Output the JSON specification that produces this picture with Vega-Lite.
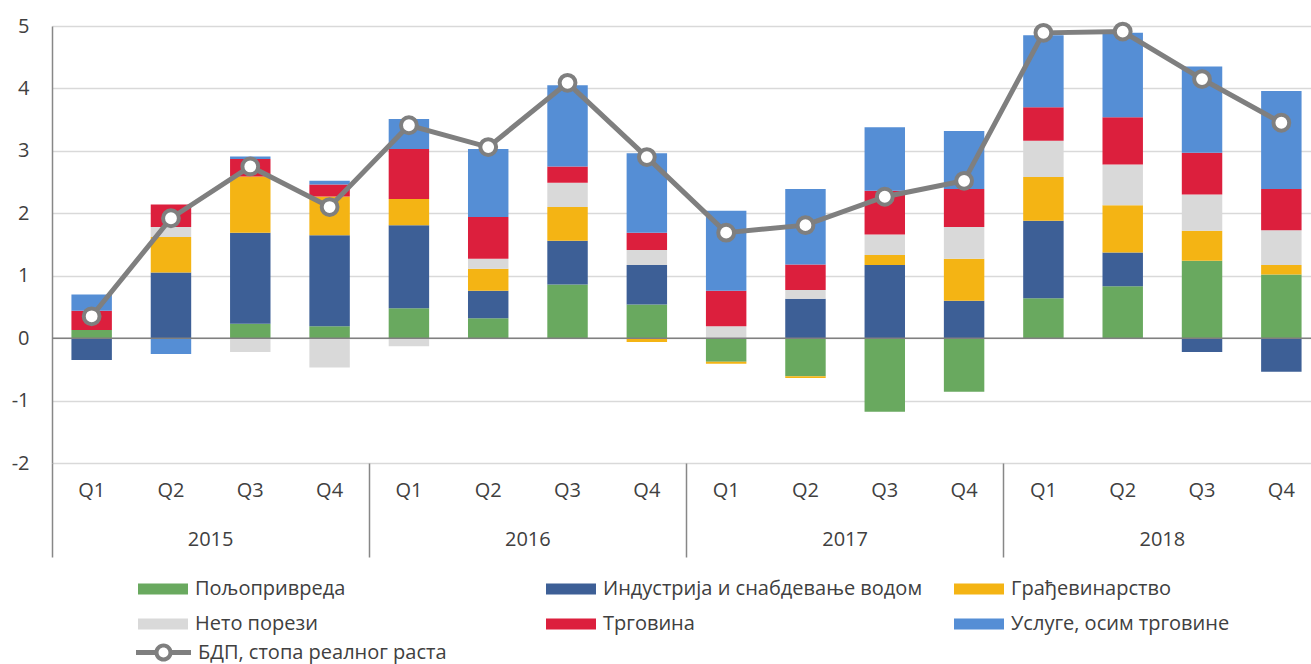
{
  "$schema": "https://vega.github.io/schema/vega-lite/v6.json",
  "width": 1269,
  "height": 437,
  "autosize": {"type": "none"},
  "padding": {"left": 52, "top": 26, "right": -10, "bottom": 201},
  "background": "white",
  "config": {
    "view": {"stroke": null},
    "font": "Open Sans",
    "axis": {"labelFont": "Open Sans", "labelFontSize": 20, "labelColor": "#404040"},
    "legend": {"labelFont": "Open Sans", "labelFontSize": 20, "labelColor": "#404040"}
  },
  "datasets": {
    "bars": [
      {"q": "2015Q1", "c": "Пољопривреда", "k": 1, "v": 0.13},
      {"q": "2015Q1", "c": "Индустрија и снабдевање водом", "k": 2, "v": -0.35},
      {"q": "2015Q1", "c": "Трговина", "k": 5, "v": 0.31},
      {"q": "2015Q1", "c": "Услуге, осим трговине", "k": 6, "v": 0.26},

      {"q": "2015Q2", "c": "Индустрија и снабдевање водом", "k": 2, "v": 1.05},
      {"q": "2015Q2", "c": "Грађевинарство", "k": 3, "v": 0.57},
      {"q": "2015Q2", "c": "Нето порези", "k": 4, "v": 0.16},
      {"q": "2015Q2", "c": "Трговина", "k": 5, "v": 0.36},
      {"q": "2015Q2", "c": "Услуге, осим трговине", "k": 6, "v": -0.255},

      {"q": "2015Q3", "c": "Пољопривреда", "k": 1, "v": 0.23},
      {"q": "2015Q3", "c": "Индустрија и снабдевање водом", "k": 2, "v": 1.46},
      {"q": "2015Q3", "c": "Грађевинарство", "k": 3, "v": 0.9},
      {"q": "2015Q3", "c": "Нето порези", "k": 4, "v": -0.22},
      {"q": "2015Q3", "c": "Трговина", "k": 5, "v": 0.28},
      {"q": "2015Q3", "c": "Услуге, осим трговине", "k": 6, "v": 0.04},

      {"q": "2015Q4", "c": "Пољопривреда", "k": 1, "v": 0.19},
      {"q": "2015Q4", "c": "Индустрија и снабдевање водом", "k": 2, "v": 1.46},
      {"q": "2015Q4", "c": "Грађевинарство", "k": 3, "v": 0.62},
      {"q": "2015Q4", "c": "Нето порези", "k": 4, "v": -0.47},
      {"q": "2015Q4", "c": "Трговина", "k": 5, "v": 0.19},
      {"q": "2015Q4", "c": "Услуге, осим трговине", "k": 6, "v": 0.06},

      {"q": "2016Q1", "c": "Пољопривреда", "k": 1, "v": 0.48},
      {"q": "2016Q1", "c": "Индустрија и снабдевање водом", "k": 2, "v": 1.33},
      {"q": "2016Q1", "c": "Грађевинарство", "k": 3, "v": 0.42},
      {"q": "2016Q1", "c": "Нето порези", "k": 4, "v": -0.13},
      {"q": "2016Q1", "c": "Трговина", "k": 5, "v": 0.8},
      {"q": "2016Q1", "c": "Услуге, осим трговине", "k": 6, "v": 0.48},

      {"q": "2016Q2", "c": "Пољопривреда", "k": 1, "v": 0.32},
      {"q": "2016Q2", "c": "Индустрија и снабдевање водом", "k": 2, "v": 0.44},
      {"q": "2016Q2", "c": "Грађевинарство", "k": 3, "v": 0.35},
      {"q": "2016Q2", "c": "Нето порези", "k": 4, "v": 0.16},
      {"q": "2016Q2", "c": "Трговина", "k": 5, "v": 0.67},
      {"q": "2016Q2", "c": "Услуге, осим трговине", "k": 6, "v": 1.09},

      {"q": "2016Q3", "c": "Пољопривреда", "k": 1, "v": 0.86},
      {"q": "2016Q3", "c": "Индустрија и снабдевање водом", "k": 2, "v": 0.7},
      {"q": "2016Q3", "c": "Грађевинарство", "k": 3, "v": 0.54},
      {"q": "2016Q3", "c": "Нето порези", "k": 4, "v": 0.39},
      {"q": "2016Q3", "c": "Трговина", "k": 5, "v": 0.26},
      {"q": "2016Q3", "c": "Услуге, осим трговине", "k": 6, "v": 1.3},

      {"q": "2016Q4", "c": "Пољопривреда", "k": 1, "v": 0.54},
      {"q": "2016Q4", "c": "Индустрија и снабдевање водом", "k": 2, "v": 0.63},
      {"q": "2016Q4", "c": "Грађевинарство", "k": 3, "v": -0.06},
      {"q": "2016Q4", "c": "Нето порези", "k": 4, "v": 0.24},
      {"q": "2016Q4", "c": "Трговина", "k": 5, "v": 0.28},
      {"q": "2016Q4", "c": "Услуге, осим трговине", "k": 6, "v": 1.27},

      {"q": "2017Q1", "c": "Пољопривреда", "k": 1, "v": -0.38},
      {"q": "2017Q1", "c": "Грађевинарство", "k": 3, "v": -0.03},
      {"q": "2017Q1", "c": "Нето порези", "k": 4, "v": 0.19},
      {"q": "2017Q1", "c": "Трговина", "k": 5, "v": 0.57},
      {"q": "2017Q1", "c": "Услуге, осим трговине", "k": 6, "v": 1.28},

      {"q": "2017Q2", "c": "Пољопривреда", "k": 1, "v": -0.61},
      {"q": "2017Q2", "c": "Индустрија и снабдевање водом", "k": 2, "v": 0.63},
      {"q": "2017Q2", "c": "Грађевинарство", "k": 3, "v": -0.03},
      {"q": "2017Q2", "c": "Нето порези", "k": 4, "v": 0.14},
      {"q": "2017Q2", "c": "Трговина", "k": 5, "v": 0.41},
      {"q": "2017Q2", "c": "Услуге, осим трговине", "k": 6, "v": 1.21},

      {"q": "2017Q3", "c": "Пољопривреда", "k": 1, "v": -1.18},
      {"q": "2017Q3", "c": "Индустрија и снабдевање водом", "k": 2, "v": 1.17},
      {"q": "2017Q3", "c": "Грађевинарство", "k": 3, "v": 0.16},
      {"q": "2017Q3", "c": "Нето порези", "k": 4, "v": 0.33},
      {"q": "2017Q3", "c": "Трговина", "k": 5, "v": 0.7},
      {"q": "2017Q3", "c": "Услуге, осим трговине", "k": 6, "v": 1.02},

      {"q": "2017Q4", "c": "Пољопривреда", "k": 1, "v": -0.86},
      {"q": "2017Q4", "c": "Индустрија и снабдевање водом", "k": 2, "v": 0.6},
      {"q": "2017Q4", "c": "Грађевинарство", "k": 3, "v": 0.67},
      {"q": "2017Q4", "c": "Нето порези", "k": 4, "v": 0.51},
      {"q": "2017Q4", "c": "Трговина", "k": 5, "v": 0.61},
      {"q": "2017Q4", "c": "Услуге, осим трговине", "k": 6, "v": 0.93},

      {"q": "2018Q1", "c": "Пољопривреда", "k": 1, "v": 0.64},
      {"q": "2018Q1", "c": "Индустрија и снабдевање водом", "k": 2, "v": 1.24},
      {"q": "2018Q1", "c": "Грађевинарство", "k": 3, "v": 0.7},
      {"q": "2018Q1", "c": "Нето порези", "k": 4, "v": 0.58},
      {"q": "2018Q1", "c": "Трговина", "k": 5, "v": 0.54},
      {"q": "2018Q1", "c": "Услуге, осим трговине", "k": 6, "v": 1.15},

      {"q": "2018Q2", "c": "Пољопривреда", "k": 1, "v": 0.83},
      {"q": "2018Q2", "c": "Индустрија и снабдевање водом", "k": 2, "v": 0.54},
      {"q": "2018Q2", "c": "Грађевинарство", "k": 3, "v": 0.76},
      {"q": "2018Q2", "c": "Нето порези", "k": 4, "v": 0.65},
      {"q": "2018Q2", "c": "Трговина", "k": 5, "v": 0.76},
      {"q": "2018Q2", "c": "Услуге, осим трговине", "k": 6, "v": 1.35},

      {"q": "2018Q3", "c": "Пољопривреда", "k": 1, "v": 1.24},
      {"q": "2018Q3", "c": "Индустрија и снабдевање водом", "k": 2, "v": -0.22},
      {"q": "2018Q3", "c": "Грађевинарство", "k": 3, "v": 0.48},
      {"q": "2018Q3", "c": "Нето порези", "k": 4, "v": 0.58},
      {"q": "2018Q3", "c": "Трговина", "k": 5, "v": 0.67},
      {"q": "2018Q3", "c": "Услуге, осим трговине", "k": 6, "v": 1.38},

      {"q": "2018Q4", "c": "Пољопривреда", "k": 1, "v": 1.02},
      {"q": "2018Q4", "c": "Индустрија и снабдевање водом", "k": 2, "v": -0.54},
      {"q": "2018Q4", "c": "Грађевинарство", "k": 3, "v": 0.15},
      {"q": "2018Q4", "c": "Нето порези", "k": 4, "v": 0.56},
      {"q": "2018Q4", "c": "Трговина", "k": 5, "v": 0.66},
      {"q": "2018Q4", "c": "Услуге, осим трговине", "k": 6, "v": 1.57}
    ],
    "gdp": [
      {"q": "2015Q1", "year": "2015", "g": 0.35},
      {"q": "2015Q2", "year": "2015", "g": 1.92},
      {"q": "2015Q3", "year": "2015", "g": 2.75},
      {"q": "2015Q4", "year": "2015", "g": 2.1},
      {"q": "2016Q1", "year": "2016", "g": 3.41},
      {"q": "2016Q2", "year": "2016", "g": 3.06},
      {"q": "2016Q3", "year": "2016", "g": 4.09},
      {"q": "2016Q4", "year": "2016", "g": 2.9},
      {"q": "2017Q1", "year": "2017", "g": 1.69},
      {"q": "2017Q2", "year": "2017", "g": 1.81},
      {"q": "2017Q3", "year": "2017", "g": 2.265},
      {"q": "2017Q4", "year": "2017", "g": 2.52},
      {"q": "2018Q1", "year": "2018", "g": 4.89},
      {"q": "2018Q2", "year": "2018", "g": 4.91},
      {"q": "2018Q3", "year": "2018", "g": 4.15},
      {"q": "2018Q4", "year": "2018", "g": 3.45}
    ]
  },
  "layer": [
    {
      "layer": [
        {
          "data": {"name": "bars"},
          "mark": {"type": "bar"},
          "encoding": {
            "x": {
              "field": "q", "type": "ordinal", "title": null,
              "scale": {"paddingInner": 0.49, "paddingOuter": 0.245},
              "axis": {"orient": "bottom", "labelExpr": "substring(datum.value, 4)", "ticks": false, "domain": false, "labelPadding": 17, "labelAngle": 0, "title": null, "grid": false}
            },
            "y": {
              "field": "v", "type": "quantitative", "stack": "zero", "title": null,
              "scale": {"domain": [-2, 5], "nice": false},
              "axis": {"values": [-2, -1, 0, 1, 2, 3, 4, 5], "labelExpr": "'' + datum.value", "grid": true, "gridColor": "#D9D9D9", "gridWidth": 1.3, "domain": true, "domainColor": "#878787", "domainWidth": 1.5, "ticks": false, "labelPadding": 23, "title": null}
            },
            "color": {
              "field": "c", "type": "nominal",
              "scale": {
                "domain": ["Пољопривреда", "Индустрија и снабдевање водом", "Грађевинарство", "Нето порези", "Трговина", "Услуге, осим трговине"],
                "range": ["#69A95F", "#3D5F96", "#F4B414", "#D9D9D9", "#DC1F3D", "#558ED5"]
              },
              "legend": {
                "title": null, "orient": "none", "legendX": 86, "legendY": 538, "columns": 3, "direction": "horizontal",
                "gridAlign": "all", "columnPadding": 31, "rowPadding": -17, "padding": 0,
                "symbolType": "M-1,-0.22H1V0.22H-1Z", "symbolSize": 2500, "symbolStrokeWidth": 0, "labelOffset": 7, "labelLimit": 500
              }
            },
            "order": {"field": "k", "type": "quantitative"}
          }
        },
        {
          "data": {"values": [{}]},
          "mark": {"type": "rule", "color": "#808080", "strokeWidth": 1.5},
          "encoding": {"y": {"datum": 0}}
        },
        {
          "data": {"name": "gdp"},
          "mark": {"type": "line", "strokeWidth": 5},
          "encoding": {
            "x": {"field": "q", "type": "ordinal", "title": null},
            "y": {"field": "g", "type": "quantitative", "title": null},
            "stroke": {
              "datum": "БДП, стопа реалног раста", "type": "nominal",
              "scale": {"range": ["#7F7F7F"]},
              "legend": {
                "title": null, "orient": "none", "legendX": 84, "legendY": 599, "padding": 0,
                "symbolType": "M-1,-0.09H-0.3V0.09H-1Z M0.3,-0.09H1V0.09H0.3Z M0.33,0A0.33,0.33 0 1,1 -0.33,0A0.33,0.33 0 1,1 0.33,0Z M0.18,0A0.18,0.18 0 1,0 -0.18,0A0.18,0.18 0 1,0 0.18,0Z",
                "symbolSize": 3025, "labelOffset": 7, "labelLimit": 500,
                "encode": {"symbols": {"update": {"fill": {"value": "#7F7F7F"}, "stroke": {"value": "transparent"}, "strokeWidth": {"value": 0}, "opacity": {"value": 1}}}}
              }
            }
          }
        },
        {
          "data": {"name": "gdp"},
          "mark": {"type": "point", "filled": true, "fill": "white", "stroke": "#7F7F7F", "strokeWidth": 4, "size": 250, "opacity": 1},
          "encoding": {
            "x": {"field": "q", "type": "ordinal", "title": null},
            "y": {"field": "g", "type": "quantitative", "title": null}
          }
        }
      ]
    },
    {
      "data": {"name": "gdp"},
      "mark": {"type": "point", "opacity": 0},
      "encoding": {
        "x": {
          "field": "year", "type": "ordinal", "title": null,
          "scale": {"type": "band", "paddingInner": 0, "paddingOuter": 0},
          "axis": {"orient": "bottom", "bandPosition": 0, "tickExtra": false, "ticks": true, "tickSize": 94, "tickColor": "#878787", "tickWidth": 1.5,
                   "domain": false, "labelPadding": -28, "labelAngle": 0, "title": null, "grid": false}
        },
        "y": {"field": "g", "type": "quantitative", "title": null}
      }
    }
  ],
  "resolve": {"scale": {"x": "independent"}}
}
